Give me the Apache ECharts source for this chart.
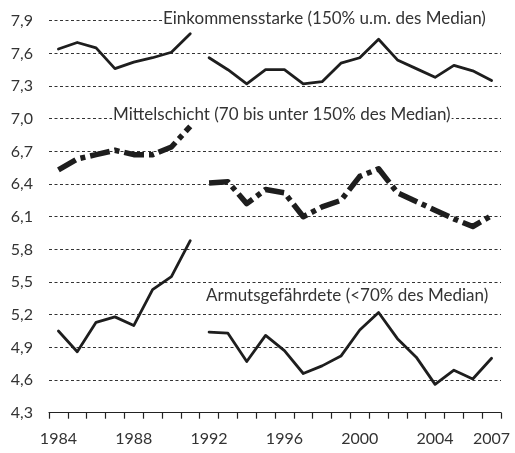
<!DOCTYPE html>
<html>
<head>
<meta charset="utf-8">
<script src="https://cdn.jsdelivr.net/npm/echarts@6/dist/echarts.min.js"></script>
<style>
  html, body { margin: 0; padding: 0; background: #fff; }
  #chart { width: 515px; height: 453px; }
</style>
</head>
<body>
<div id="chart"></div>
<script>
// Jahre 1984–2007, Bruch zwischen 1991 und 1992
const years = [1984, 1985, 1986, 1987, 1988, 1989, 1990, 1991,
  1992, 1993, 1994, 1995, 1996, 1997, 1998, 1999,
  2000, 2001, 2002, 2003, 2004, 2005, 2006, 2007];
const breakYear = 1991;

const einkommensstarke = [7.64, 7.70, 7.65, 7.46, 7.52, 7.56, 7.61, 7.78,
  7.56, 7.45, 7.32, 7.45, 7.45, 7.32, 7.34, 7.51,
  7.56, 7.73, 7.54, 7.46, 7.38, 7.49, 7.44, 7.35];
const mittelschicht = [6.53, 6.63, 6.67, 6.71, 6.67, 6.67, 6.74, 6.93,
  6.41, 6.42, 6.22, 6.35, 6.32, 6.10, 6.19, 6.25,
  6.47, 6.54, 6.32, 6.24, 6.16, 6.08, 6.01, 6.11];
const armutsgefaehrdete = [5.05, 4.86, 5.13, 5.18, 5.10, 5.43, 5.55, 5.88,
  5.04, 5.03, 4.77, 5.01, 4.87, 4.66, 4.73, 4.82,
  5.06, 5.22, 4.98, 4.81, 4.56, 4.69, 4.61, 4.80];

const labels = [
  { text: 'Einkommensstarke (150% u.m. des Median)', x: 162, y: 20, padRight: 16 },
  { text: 'Mittelschicht (70 bis unter 150% des Median)', x: 112, y: 116, padRight: 1 },
  { text: 'Armutsgefährdete (<70% des Median)', x: 205, y: 297, padRight: 1 }
];

const FONT = 'Lato';
const chart = echarts.init(document.getElementById('chart'), null, { renderer: 'canvas' });

// teilt eine Reihe in zwei Abschnitte (vor / nach dem Bruch)
const segment = (values, first) =>
  values.map((v, i) => (first ? years[i] <= breakYear : years[i] > breakYear) ? v : null);

const solid = { color: '#1e1e1e', width: 2.8, type: 'solid', cap: 'round', join: 'round' };
const dashDot = { color: '#1e1e1e', width: 5.5, type: [20, 5, 5, 5], cap: 'butt', join: 'round' };

const makeSeries = (name, values, style) => [true, false].map(first => ({
  name: name,
  type: 'line',
  data: segment(values, first),
  symbol: 'none',
  connectNulls: false,
  lineStyle: style,
  animation: false
}));

const option = {
  backgroundColor: '#fff',
  animation: false,
  grid: { left: 49, right: 14, top: 20.7, bottom: 40.3, containLabel: false },
  xAxis: {
    type: 'category',
    data: years,
    boundaryGap: true,
    axisLine: { show: true, lineStyle: { color: '#222', width: 1.2 } },
    axisTick: { show: true, length: 6, interval: 0, lineStyle: { color: '#222', width: 1.2 } },
    axisLabel: {
      interval: (i, v) => (Number(v) - 1984) % 4 === 0 || Number(v) === 2007,
      color: '#333', fontFamily: FONT, fontSize: 16, margin: 18
    },
    splitLine: { show: false }
  },
  yAxis: {
    type: 'value',
    min: 4.3,
    max: 7.9,
    interval: 0.3,
    axisLine: { show: false },
    axisTick: { show: false },
    axisLabel: {
      formatter: v => v.toFixed(1).replace('.', ','),
      color: '#333', fontFamily: FONT, fontSize: 16, margin: 16
    },
    splitLine: {
      show: true,
      lineStyle: { color: '#333', width: 1, type: [3, 2.5] }
    }
  },
  series: [
    ...makeSeries('Einkommensstarke', einkommensstarke, solid),
    ...makeSeries('Mittelschicht', mittelschicht, dashDot),
    ...makeSeries('Armutsgefährdete', armutsgefaehrdete, solid)
  ],
  graphic: labels.map(l => ({
    type: 'text',
    left: l.x,
    top: l.y - 11,
    z: 10,
    style: {
      text: l.text,
      fill: '#333',
      font: '17px ' + FONT,
      backgroundColor: '#fff',
      padding: [1, l.padRight, 1, 1]
    }
  }))
};

chart.setOption(option);
</script>
</body>
</html>
